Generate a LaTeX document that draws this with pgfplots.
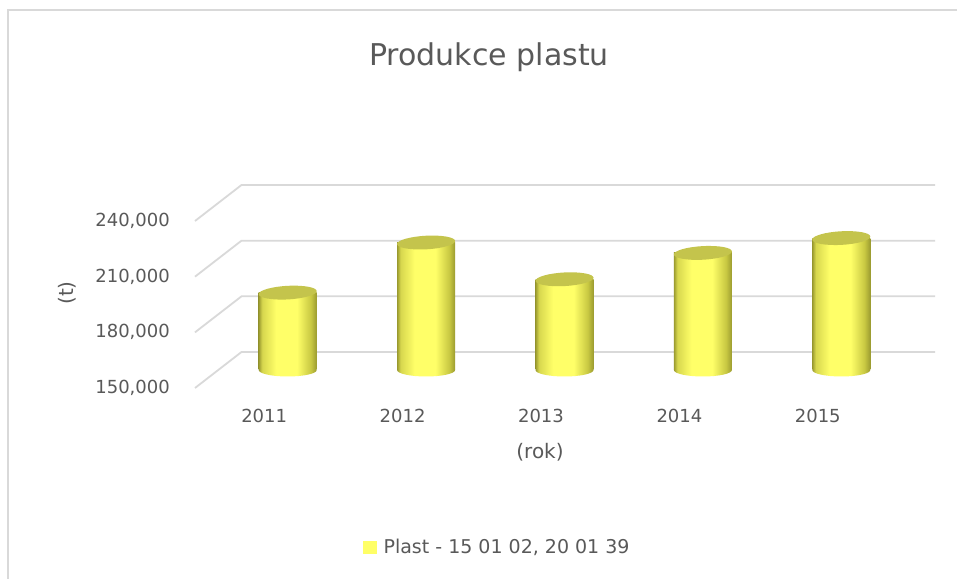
\documentclass[border=0pt]{standalone}
\usepackage{pgfplots}
\usepackage{pgfplotstable}
\pgfplotsset{compat=1.18}
\usepackage{fontspec}
\setmainfont{DejaVu Sans}
\definecolor{txt}{HTML}{595959}
\definecolor{gridc}{HTML}{D9D9D9}
\definecolor{capcol}{HTML}{C4C44C}
\definecolor{legcol}{HTML}{FFFF66}
\definecolor{cylA}{RGB}{155,155,48}
\definecolor{cylB}{RGB}{215,215,78}
\definecolor{cylC}{RGB}{255,255,104}
\definecolor{cylD}{RGB}{200,200,66}
\pgfdeclarehorizontalshading{cyl}{100bp}{color(0bp)=(cylA); color(25bp)=(cylA); color(28bp)=(cylB); color(40bp)=(cylC); color(58bp)=(cylC); color(70bp)=(cylD); color(75bp)=(cylA); color(100bp)=(cylA)}
\pgfdeclareplotmark{cylbot}{%
  \pgfpathmoveto{\pgfpoint{-29pt}{0pt}}%
  \pgfpatharc{180}{360}{29pt and 6.5pt}%
  \pgfpathclose
  \pgfshadepath{cyl}{0}%
  \pgfusepath{discard}%
}
\pgfdeclareplotmark{cyltop}{%
  \pgfpathellipse{\pgfpointorigin}{\pgfpoint{29pt}{1.5pt}}{\pgfpoint{0pt}{6.8pt}}%
  \pgfsetfillcolor{capcol}%
  \pgfusepath{fill}%
}
\pgfplotstableread{
x y
0 191700
1 218700
2 198900
3 213100
4 221100
}\plastdata
\pgfplotsset{geom/.style={scale only axis, width=692pt, height=167pt,
  at={(218.5pt,208pt)}, anchor=south west,
  xmin=-0.5, xmax=4.5, ymin=150000, ymax=240000,
  scaled y ticks=false, scaled x ticks=false}}
\begin{document}
\begin{tikzpicture}[x=1pt,y=1pt]
\useasboundingbox (0,0) rectangle (957,578);
\fill[white] (0,0) rectangle (957,578);
\draw[gridc, line width=1.5pt] (8,-10) -- (8,568) -- (980,568);
\node[anchor=base, text=txt, font=\fontsize{30}{36}\selectfont] at (489,512) {Produkce plastu};
% grid, tick labels, axis titles, legend
\begin{axis}[geom, clip=false,
  axis line style={draw=none}, tick style={draw=none},
  xtick={0,1,2,3,4}, xticklabels={2011,2012,2013,2014,2015},
  ytick={150000,180000,210000,240000},
  yticklabels={{150,000},{180,000},{210,000},{240,000}},
  ticklabel style={text=txt, font=\fontsize{18}{21}\selectfont, inner sep=0pt},
  xticklabel style={anchor=north, xshift=-23.5pt, yshift=-38.5pt},
  yticklabel style={anchor=east, xshift=-48.5pt, yshift=-18pt},
  xlabel={(rok)}, ylabel={(t)},
  every axis x label/.style={at={([shift={(0pt,-82pt)}]rel axis cs:0.4646,0)}, anchor=center, text=txt, font=\fontsize{20}{24}\selectfont},
  every axis y label/.style={at={([shift={(-151.5pt,0pt)}]rel axis cs:0,0.461)}, anchor=center, rotate=90, text=txt, font=\fontsize{20}{24}\selectfont},
  legend style={draw=none, fill=none, inner sep=0pt, nodes={inner sep=0pt, text=txt},
    font=\fontsize{19}{22}\selectfont, at={(0.2088,-1.062)}, anchor=west},
  legend cell align=left,
]
\pgfplotsinvokeforeach{150000,180000,210000,240000}{
  \draw[gridc, line width=1.8pt] ([shift={(-23.5pt,-18pt)}]axis cs:-0.5,#1) -- ([shift={(23pt,18pt)}]axis cs:-0.5,#1) -- ([shift={(24.5pt,18pt)}]axis cs:4.5,#1);
}
\addlegendimage{legend image code/.code={\fill[legcol] (0pt,-6pt) rectangle (13pt,6pt); \path (20pt,0pt);}}
\addlegendentry{Plast - 15 01 02, 20 01 39}
\end{axis}
% cylinders
\begin{axis}[geom, hide axis, clip mode=individual]
\pgfplotsinvokeforeach{0,1,2,3,4}{
  \addplot[ybar, bar width=58pt, bar shift=0pt, draw=none, shade, shading=cyl, forget plot]
    table[x=x, y=y, restrict x to domain=#1:#1] {\plastdata};
}
\addplot[only marks, mark=cylbot, forget plot] table[x=x, y expr=150000] {\plastdata};
\addplot[only marks, mark=cyltop, forget plot] table[x=x, y=y] {\plastdata};
\end{axis}
\end{tikzpicture}
\end{document}
